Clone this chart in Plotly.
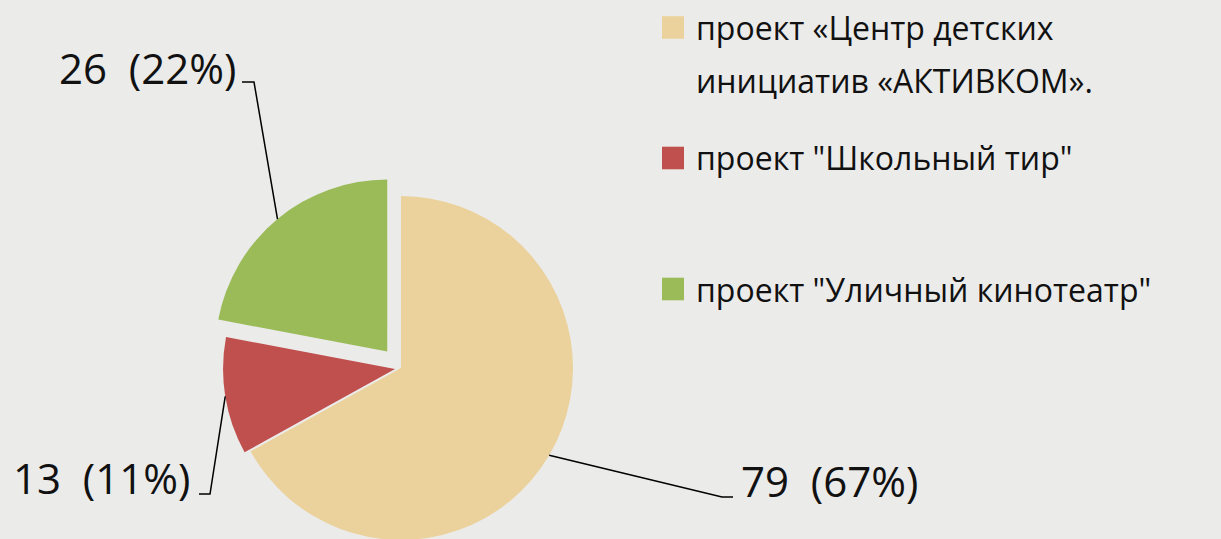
import math
import plotly.graph_objects as go

# ---------------- data ----------------
categories = [
    'проект «Центр детских инициатив «АКТИВКОМ».',
    'проект "Школьный тир"',
    'проект "Уличный кинотеатр"',
]
legend_lines = [
    ['проект «Центр детских', 'инициатив «АКТИВКОМ».'],
    ['проект "Школьный тир"'],
    ['проект "Уличный кинотеатр"'],
]
values = [79, 13, 26]
percents = [67, 11, 22]

# ---------------- style / layout ----------------
colors = ['#EBD29C', '#C0504D', '#9BBB59']
pulls = [0.0, 0.035, 0.125]
BG = '#EBEBEA'
FONT = 'Open Sans'
TXT = '#111111'

W, H = 1221, 570
CX, CY, R = 401, 368, 172          # pie centre / radius in pixels
max_pull = max(pulls)
box = 2 * R * (1 + max_pull)
domain_x = [(CX - box / 2) / W, (CX + box / 2) / W]
domain_y = [1 - (CY + box / 2) / H, 1 - (CY - box / 2) / H]


def px(x):
    return x / W


def py(y):
    return 1 - y / H


fig = go.Figure(go.Pie(
    labels=categories,
    values=values,
    sort=False,
    direction='clockwise',
    rotation=0,
    pull=pulls,
    marker=dict(colors=colors, line=dict(width=0)),
    textinfo='none',
    hoverinfo='label+value+percent',
    showlegend=False,
    domain=dict(x=domain_x, y=domain_y),
))

# label layout: elbow point, end of horizontal tick, text anchor, text y-centre
label_layout = [
    dict(elbow=(722, 497), tick_end=(733, 497), text_x=739, text_y=480, anchor='left'),
    dict(elbow=(210, 494), tick_end=(199, 494), text_x=192, text_y=477, anchor='right'),
    dict(elbow=(254, 82), tick_end=(242, 82), text_x=238, text_y=67, anchor='right'),
]

total = sum(values)
shapes = []
annotations = []
cum = 0
for i, v in enumerate(values):
    mid = (cum + v / 2) / total * 2 * math.pi
    cum += v
    reach = R * (1 + pulls[i])
    ax = CX + reach * math.sin(mid)
    ay = CY - reach * math.cos(mid)
    L = label_layout[i]
    ex, ey = L['elbow']
    tx, ty = L['tick_end']
    shapes.append(dict(type='path', xref='paper', yref='paper',
                       path=f'M {px(ax)},{py(ay)} L {px(ex)},{py(ey)} L {px(tx)},{py(ty)}',
                       line=dict(color='#000000', width=1.5)))
    annotations.append(dict(
        x=px(L['text_x']), y=py(L['text_y']), xref='paper', yref='paper',
        text=f'{v}\u00a0 ({percents[i]}%)', showarrow=False,
        xanchor=L['anchor'], yanchor='middle',
        font=dict(family=FONT, size=42, color=TXT)))

# manual legend
legend_x_sq = (662, 684)
legend_text_x = 694
legend_line_y = [[27.5, 80.8], [158], [289]]
for i, lines in enumerate(legend_lines):
    yc = legend_line_y[i][0]
    shapes.append(dict(type='rect', xref='paper', yref='paper',
                       x0=px(legend_x_sq[0]), x1=px(legend_x_sq[1]),
                       y0=py(yc + 11.3), y1=py(yc - 11.3),
                       fillcolor=colors[i], line=dict(width=0)))
    for j, line in enumerate(lines):
        annotations.append(dict(
            x=px(legend_text_x), y=py(legend_line_y[i][j]), xref='paper', yref='paper',
            text=line, showarrow=False, xanchor='left', yanchor='middle',
            font=dict(family=FONT, size=32, color=TXT)))

fig.update_layout(
    width=W, height=H,
    margin=dict(l=0, r=0, t=0, b=0),
    paper_bgcolor=BG, plot_bgcolor=BG,
    shapes=shapes, annotations=annotations,
    font=dict(family=FONT),
)

fig.write_html(
    'out.html',
    config={'displayModeBar': False},
    post_script="document.body.style.margin='0';document.body.style.overflow='hidden';"
                "document.documentElement.style.overflow='hidden';"
                "document.body.style.background='" + BG + "';",
)
